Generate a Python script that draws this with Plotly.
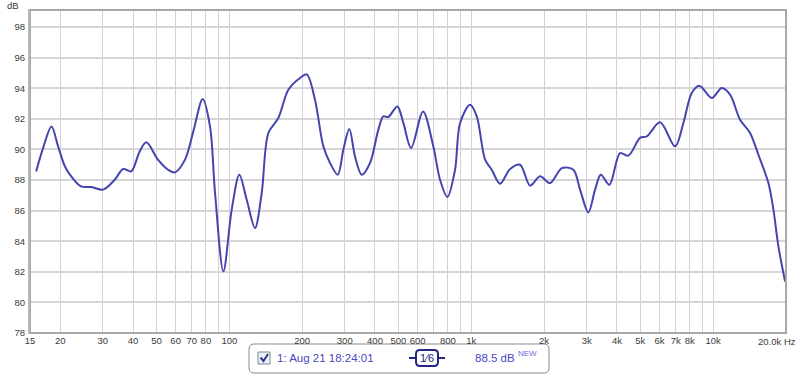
import plotly.graph_objects as go
import math

# ---- data ----
freq_hz = [15.9, 17.0, 18.4, 19.6, 20.9, 22.2, 24.4, 26.9, 30.1, 33.6, 36.4, 39.3, 42.6, 45.4,
           50.7, 55.8, 59.6, 65.6, 71.0, 77.6, 83.2, 87.3, 94.5, 102.3, 110, 118, 127.7, 136.1,
           145, 159.4, 175.4, 196, 209, 226, 244.7, 260.8, 280.6, 296, 313.4, 330.8, 352.6,
           381.6, 413, 433, 454, 495, 524, 564, 632, 697, 743, 797, 857, 899, 989, 1054, 1141,
           1215, 1316, 1447, 1591, 1751, 1925, 2117, 2370, 2643, 2817, 3049, 3250, 3431, 3724,
           4123, 4461, 4987, 5315, 6033, 6959, 7532, 8156, 8770, 9867, 10851, 11744, 12920,
           14207, 15380, 16918, 17744, 18603, 19826]
spl_db = [88.56, 90.1, 91.5, 90.2, 88.9, 88.24, 87.58, 87.54, 87.37, 88.02, 88.72, 88.56, 89.87, 90.46,
          89.33, 88.67, 88.5, 89.33, 91.18, 93.29, 91.5, 87.15, 82.03, 86.06, 88.35, 86.71, 84.86, 87.15,
          91.07, 92.05, 93.9, 94.67, 94.9, 93.25, 90.2, 89.11, 88.35, 89.98, 91.33, 89.54, 88.35,
          89.11, 91.29, 92.16, 92.12, 92.81, 91.73, 90.09, 92.48, 90.2, 88.02, 86.89, 88.67, 91.73, 92.92, 92.16, 89.33,
          88.67, 87.76, 88.72, 89.0, 87.63, 88.24, 87.8, 88.78, 88.67, 87.37, 85.88, 87.37, 88.35, 87.69,
          89.76, 89.59, 90.75, 90.85, 91.77, 90.2, 91.73, 93.69, 94.16, 93.36, 94.01, 93.58, 91.94,
          91.07, 89.65, 87.8, 86.06, 83.66, 81.37]

x_grid = [15, 20, 30, 40, 50, 60, 70, 80, 90, 100, 200, 300, 400, 500, 600, 700, 800, 900, 1000,
          2000, 3000, 4000, 5000, 6000, 7000, 8000, 9000, 10000]
x_labels = ["15", "20", "30", "40", "50", "60", "70", "80", "", "100", "200", "300", "400", "500", "600", "",
            "800", "", "1k", "2k", "3k", "4k", "5k", "6k", "7k", "8k", "", "10k"]
y_ticks = [78, 80, 82, 84, 86, 88, 90, 92, 94, 96, 98]

legend_name = "1: Aug 21 18:24:01"
smoothing_label = "1⁄6"
level_label = "88.5 dB"

W, H = 800, 376
L, R, T, B = 30, 786, 10, 333

def X(px):
    return (px - L) / (R - L)

def Y(py):
    return (B - py) / (B - T)

fig = go.Figure()
fig.add_trace(go.Scatter(x=freq_hz, y=spl_db, mode="lines",
                         line=dict(color="#4545b0", width=2, shape="spline", smoothing=0.9),
                         hoverinfo="skip", showlegend=False))

font = dict(family="Liberation Sans, Arial, sans-serif", size=9.5, color="#3a3a3a")
fig.update_xaxes(type="log", range=[math.log10(15), math.log10(20000)],
                 tickvals=x_grid, ticktext=x_labels, showgrid=True, gridcolor="#d2d2d2", gridwidth=1,
                 ticks="", tickfont=font,
                 zeroline=False, showline=False, fixedrange=True)
fig.update_yaxes(range=[78, 98 + (27 - 10) / 15.3], tickvals=y_ticks,
                 showgrid=True, gridcolor="#d6d6d6", gridwidth=1.5,
                 ticks="outside", ticklen=2, tickcolor="rgba(0,0,0,0)", tickfont=font,
                 zeroline=False, showline=False, fixedrange=True)

def rrect(x0, y0, x1, y1, r):
    return (f"M {X(x0+r)},{Y(y0)} L {X(x1-r)},{Y(y0)} Q {X(x1)},{Y(y0)} {X(x1)},{Y(y0+r)} "
            f"L {X(x1)},{Y(y1-r)} Q {X(x1)},{Y(y1)} {X(x1-r)},{Y(y1)} L {X(x0+r)},{Y(y1)} "
            f"Q {X(x0)},{Y(y1)} {X(x0)},{Y(y1-r)} L {X(x0)},{Y(y0+r)} Q {X(x0)},{Y(y0)} {X(x0+r)},{Y(y0)} Z")

shapes = [
    # plot frame
    dict(type="rect", xref="paper", yref="paper", x0=0, x1=1, y0=0, y1=1,
         line=dict(color="#a8a8a8", width=2), layer="above"),
    dict(type="line", xref="paper", yref="paper", x0=X(29), x1=X(29), y0=Y(B + 1), y1=Y(T - 1),
         line=dict(color="#b8b8b8", width=2), layer="above"),
    # legend box
    dict(type="path", xref="paper", yref="paper", path=rrect(249, 344, 549, 373, 5),
         line=dict(color="#8a8a8a", width=1), fillcolor="white", layer="below"),
    # checkbox
    dict(type="rect", xref="paper", yref="paper", x0=X(258), x1=X(270), y0=Y(364), y1=Y(352),
         line=dict(color="#7a8898", width=1), fillcolor="#eef2f8"),
    dict(type="path", xref="paper", yref="paper",
         path=f"M {X(260.5)},{Y(357.5)} L {X(263.5)},{Y(361)} L {X(268)},{Y(354)}",
         line=dict(color="#2c3a8c", width=2)),
    # smoothing badge
    dict(type="line", xref="paper", yref="paper", x0=X(409), x1=X(416), y0=Y(358), y1=Y(358),
         line=dict(color="#26268a", width=2)),
    dict(type="line", xref="paper", yref="paper", x0=X(438), x1=X(445), y0=Y(358), y1=Y(358),
         line=dict(color="#26268a", width=2)),
    dict(type="path", xref="paper", yref="paper", path=rrect(416, 350, 438, 366, 4),
         line=dict(color="#26268a", width=2), fillcolor="white"),
]

annotations = [
    dict(text="dB", xref="paper", yref="paper", x=X(21), y=Y(5), showarrow=False,
         font=font, xanchor="right", yanchor="middle"),
    dict(text="20.0k Hz", xref="paper", yref="paper", x=X(798), y=Y(341), showarrow=False,
         font=font, xanchor="right", yanchor="middle"),
    dict(text=legend_name, xref="paper", yref="paper", x=X(275), y=Y(358), showarrow=False,
         font=dict(family="Liberation Sans, Arial, sans-serif", size=11.5, color="#4848c0"),
         xanchor="left", yanchor="middle"),
    dict(text=smoothing_label, xref="paper", yref="paper", x=X(427), y=Y(358), showarrow=False,
         font=dict(family="Liberation Sans, Arial, sans-serif", size=11, color="#26268a"),
         xanchor="center", yanchor="middle"),
    dict(text=level_label, xref="paper", yref="paper", x=X(473), y=Y(358), showarrow=False,
         font=dict(family="Liberation Sans, Arial, sans-serif", size=11.5, color="#4848c8"),
         xanchor="left", yanchor="middle"),
    dict(text="NEW", xref="paper", yref="paper", x=X(516), y=Y(353), showarrow=False,
         font=dict(family="Liberation Sans, Arial, sans-serif", size=8, color="#6a6ae0"),
         xanchor="left", yanchor="middle"),
]

fig.update_layout(width=W, height=H, margin=dict(l=L, r=W - R, t=T, b=H - B),
                  paper_bgcolor="white", plot_bgcolor="white",
                  shapes=shapes, annotations=annotations, showlegend=False)
fig.write_html("out.html", config={"displayModeBar": False},
               post_script="document.body.style.margin='0';document.body.style.overflow='hidden';")
